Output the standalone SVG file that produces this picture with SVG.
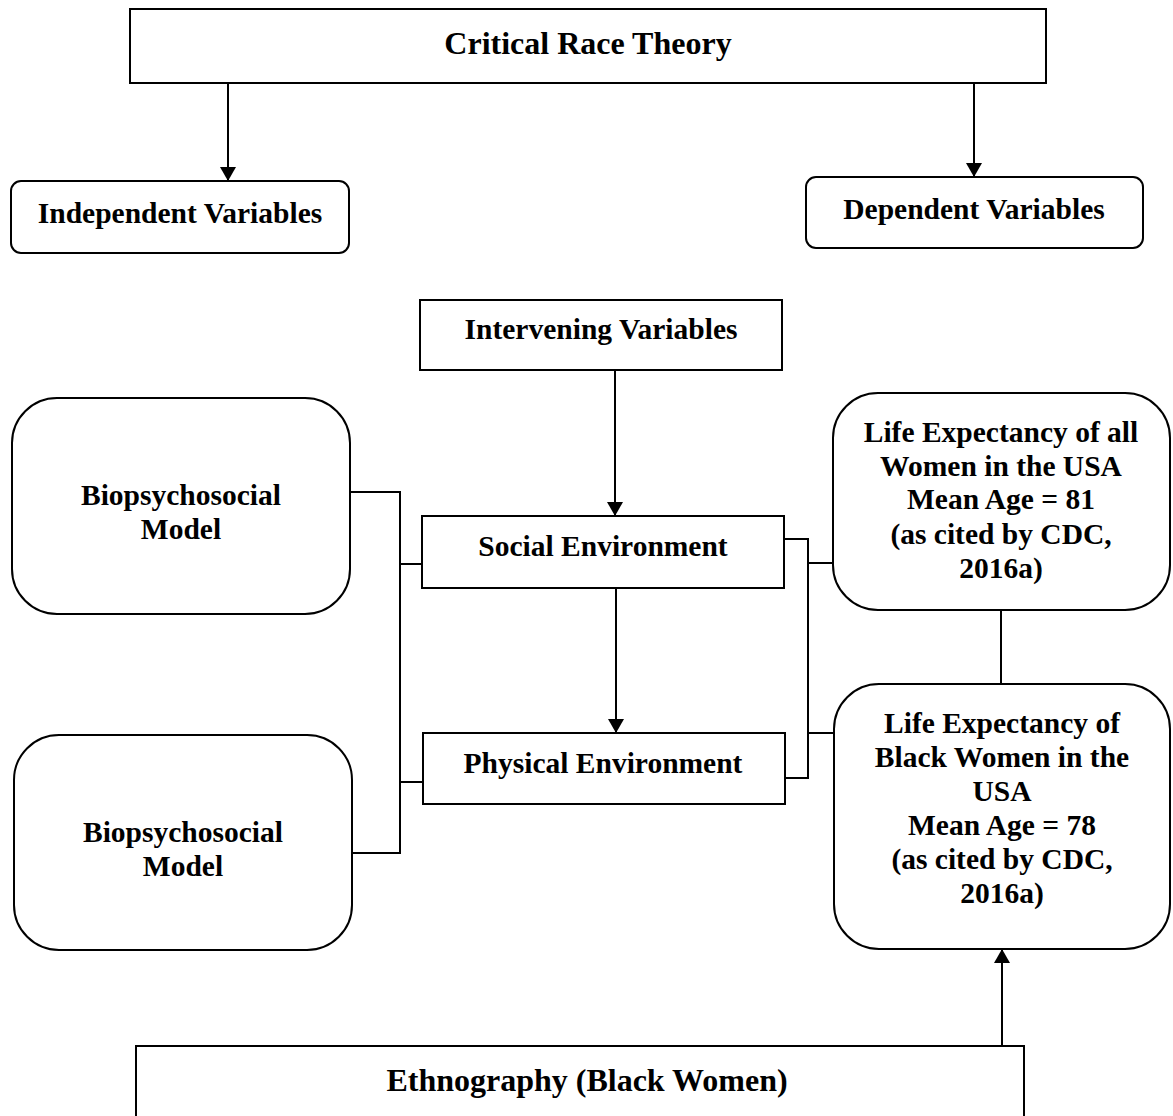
<svg xmlns="http://www.w3.org/2000/svg" width="1173" height="1116" viewBox="0 0 1173 1116">
<defs>
<style>
.box{fill:#fff;stroke:#000;stroke-width:2}
.t{font-family:"Liberation Serif","Times New Roman",serif;font-weight:bold;font-size:29.5px;fill:#000;text-anchor:middle}
.big{font-size:32px}
.ln{fill:none;stroke:#000;stroke-width:2}
</style>
<marker id="ah" markerWidth="14" markerHeight="16" refX="14" refY="8" orient="auto" markerUnits="userSpaceOnUse">
<path d="M0,0 L14,8 L0,16 Z" fill="#000"/>
</marker>
</defs>
<rect width="1173" height="1116" fill="#fff"/>
<g id="connectors">
<line class="ln" x1="228" y1="83" x2="228" y2="181" marker-end="url(#ah)"/>
<line class="ln" x1="974" y1="81" x2="974" y2="177" marker-end="url(#ah)"/>
<line class="ln" x1="615" y1="370" x2="615" y2="516" marker-end="url(#ah)"/>
<line class="ln" x1="616" y1="588" x2="616" y2="733" marker-end="url(#ah)"/>
<line class="ln" x1="1002" y1="1046" x2="1002" y2="949" marker-end="url(#ah)"/>
<polyline class="ln" points="350,492 400,492 400,853 352,853"/>
<line class="ln" x1="400" y1="564" x2="422" y2="564"/>
<line class="ln" x1="400" y1="782" x2="423" y2="782"/>
<polyline class="ln" points="784,539 808,539 808,778 785,778"/>
<line class="ln" x1="808" y1="563" x2="833" y2="563"/>
<line class="ln" x1="808" y1="733" x2="834" y2="733"/>
<line class="ln" x1="1001" y1="610" x2="1001" y2="684"/>
</g>
<g id="crt">
<rect class="box" x="130" y="9" width="916" height="74"/>
<text class="t big" x="588" y="54">Critical Race Theory</text>
</g>
<g id="independent">
<rect class="box" x="11" y="181" width="338" height="72" rx="10"/>
<text class="t" x="180" y="223">Independent Variables</text>
</g>
<g id="dependent">
<rect class="box" x="806" y="177" width="337" height="71" rx="10"/>
<text class="t" x="974" y="219">Dependent Variables</text>
</g>
<g id="intervening">
<rect class="box" x="420" y="300" width="362" height="70"/>
<text class="t" x="601" y="339">Intervening Variables</text>
</g>
<g id="social">
<rect class="box" x="422" y="516" width="362" height="72"/>
<text class="t" x="603" y="556">Social Environment</text>
</g>
<g id="physical">
<rect class="box" x="423" y="733" width="362" height="71"/>
<text class="t" x="603" y="773">Physical Environment</text>
</g>
<g id="bio1">
<rect class="box" x="12" y="398" width="338" height="216" rx="45"/>
<text class="t" x="181" y="505">Biopsychosocial</text>
<text class="t" x="181" y="539">Model</text>
</g>
<g id="bio2">
<rect class="box" x="14" y="735" width="338" height="215" rx="45"/>
<text class="t" x="183" y="842">Biopsychosocial</text>
<text class="t" x="183" y="876">Model</text>
</g>
<g id="life-all">
<rect class="box" x="833" y="393" width="337" height="217" rx="45"/>
<text class="t" x="1001" y="442">Life Expectancy of all</text>
<text class="t" x="1001" y="476">Women in the USA</text>
<text class="t" x="1001" y="509">Mean Age = 81</text>
<text class="t" x="1001" y="544">(as cited by CDC,</text>
<text class="t" x="1001" y="578">2016a)</text>
</g>
<g id="life-black">
<rect class="box" x="834" y="684" width="336" height="265" rx="45"/>
<text class="t" x="1002" y="733">Life Expectancy of</text>
<text class="t" x="1002" y="767">Black Women in the</text>
<text class="t" x="1002" y="801">USA</text>
<text class="t" x="1002" y="835">Mean Age = 78</text>
<text class="t" x="1002" y="869">(as cited by CDC,</text>
<text class="t" x="1002" y="903">2016a)</text>
</g>
<g id="ethnography">
<rect class="box" x="136" y="1046" width="888" height="80"/>
<text class="t big" x="587" y="1091">Ethnography (Black Women)</text>
</g>
</svg>
